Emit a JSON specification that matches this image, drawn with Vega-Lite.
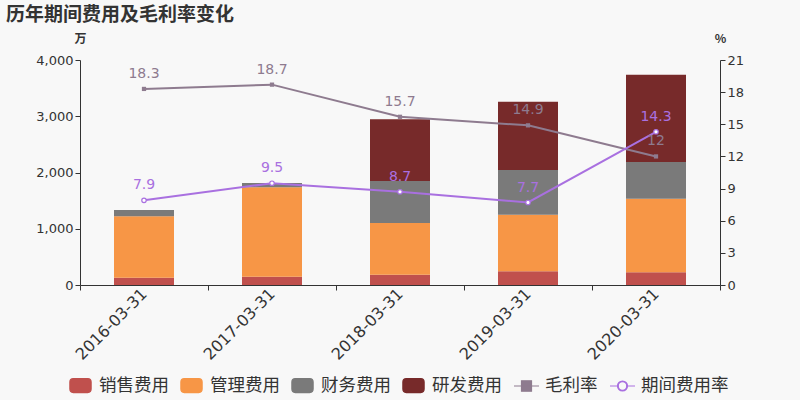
{
  "$schema": "https://vega.github.io/schema/vega-lite/v6.json",
  "autosize": "none",
  "width": 640,
  "height": 225,
  "padding": {"left": 80, "top": 60, "right": 80, "bottom": 115},
  "background": "#f8f8f8",
  "title": {
    "text": "历年期间费用及毛利率变化",
    "anchor": "start",
    "frame": "group",
    "dx": -74,
    "offset": 7,
    "fontSize": 19,
    "fontWeight": "bold",
    "color": "#333333",
    "font": "Noto Sans CJK SC"
  },
  "config": {
    "font": "DejaVu Sans",
    "view": {"stroke": null},
    "axis": {
      "domainColor": "#333333",
      "tickColor": "#333333",
      "labelColor": "#333333",
      "titleColor": "#333333",
      "grid": false,
      "labelFont": "DejaVu Sans",
      "titleFont": "Noto Sans CJK SC"
    }
  },
  "datasets": {
    "bars": [
      {"日期": "2016-03-31", "系列": "销售费用", "金额": 130, "序": 1},
      {"日期": "2016-03-31", "系列": "管理费用", "金额": 1091, "序": 2},
      {"日期": "2016-03-31", "系列": "财务费用", "金额": 112, "序": 3},
      {"日期": "2016-03-31", "系列": "研发费用", "金额": 0, "序": 4},
      {"日期": "2017-03-31", "系列": "销售费用", "金额": 148, "序": 1},
      {"日期": "2017-03-31", "系列": "管理费用", "金额": 1589, "序": 2},
      {"日期": "2017-03-31", "系列": "财务费用", "金额": 76, "序": 3},
      {"日期": "2017-03-31", "系列": "研发费用", "金额": 0, "序": 4},
      {"日期": "2018-03-31", "系列": "销售费用", "金额": 183, "序": 1},
      {"日期": "2018-03-31", "系列": "管理费用", "金额": 919, "序": 2},
      {"日期": "2018-03-31", "系列": "财务费用", "金额": 747, "序": 3},
      {"日期": "2018-03-31", "系列": "研发费用", "金额": 1096, "序": 4},
      {"日期": "2019-03-31", "系列": "销售费用", "金额": 243, "序": 1},
      {"日期": "2019-03-31", "系列": "管理费用", "金额": 1007, "序": 2},
      {"日期": "2019-03-31", "系列": "财务费用", "金额": 794, "序": 3},
      {"日期": "2019-03-31", "系列": "研发费用", "金额": 1215, "序": 4},
      {"日期": "2020-03-31", "系列": "销售费用", "金额": 225, "序": 1},
      {"日期": "2020-03-31", "系列": "管理费用", "金额": 1310, "序": 2},
      {"日期": "2020-03-31", "系列": "财务费用", "金额": 652, "序": 3},
      {"日期": "2020-03-31", "系列": "研发费用", "金额": 1552, "序": 4}
    ],
    "rates": [
      {"日期": "2016-03-31", "系列": "毛利率", "值": 18.3},
      {"日期": "2017-03-31", "系列": "毛利率", "值": 18.7},
      {"日期": "2018-03-31", "系列": "毛利率", "值": 15.7},
      {"日期": "2019-03-31", "系列": "毛利率", "值": 14.9},
      {"日期": "2020-03-31", "系列": "毛利率", "值": 12},
      {"日期": "2016-03-31", "系列": "期间费用率", "值": 7.9},
      {"日期": "2017-03-31", "系列": "期间费用率", "值": 9.5},
      {"日期": "2018-03-31", "系列": "期间费用率", "值": 8.7},
      {"日期": "2019-03-31", "系列": "期间费用率", "值": 7.7},
      {"日期": "2020-03-31", "系列": "期间费用率", "值": 14.3}
    ]
  },
  "encoding": {
    "x": {
      "field": "日期",
      "type": "nominal",
      "scale": {"paddingInner": 0, "paddingOuter": 0},
      "axis": {
        "title": null,
        "labelAngle": -45,
        "labelAlign": "right",
        "labelBaseline": "middle",
        "labelFontSize": 16,
        "labelPadding": 1,
        "tickBand": "extent",
        "tickSize": 5
      }
    }
  },
  "layer": [
    {
      "data": {"name": "bars"},
      "mark": {"type": "bar", "width": 60},
      "encoding": {
        "y": {
          "aggregate": "sum",
          "field": "金额",
          "type": "quantitative",
          "stack": "zero",
          "scale": {"domain": [0, 4000]},
          "axis": {
            "title": "万",
            "titleAngle": 0,
            "titleX": 0,
            "titleY": -22,
            "titleAlign": "center",
            "titleBaseline": "middle",
            "titleFontSize": 12,
            "titleFontWeight": "bold",
            "values": [0, 1000, 2000, 3000, 4000],
            "format": ",.0f",
            "labelFontSize": 13,
            "tickSize": 5
          }
        },
        "color": {
          "field": "系列",
          "type": "nominal",
          "scale": {
            "domain": ["销售费用", "管理费用", "财务费用", "研发费用", "毛利率", "期间费用率"],
            "range": ["#c0504d", "#f79646", "#7a7a7a", "#772a2a", "#8e7b8f", "#a970e0"]
          },
          "legend": {
            "title": null,
            "orient": "none",
            "direction": "horizontal",
            "legendX": -13,
            "legendY": 312,
            "labelFont": "Noto Sans CJK SC",
            "labelFontSize": 17.5,
            "labelColor": "#333333",
            "columnPadding": 9,
            "labelOffset": 5,
            "symbolSize": 625,
            "symbolStrokeWidth": 1.5,
            "encode": {
              "symbols": {
                "update": {
                  "shape": [
                    {"test": "datum.value === '毛利率'", "value": "M-1,0H1M-0.4,-0.42H0.4V0.42H-0.4Z"},
                    {"test": "datum.value === '期间费用率'", "value": "M-1,0H-0.4M0.4,0H1M-0.4,0A0.4,0.4 0 1,1 0.4,0A0.4,0.4 0 1,1 -0.4,0ZM-0.34,0A0.34,0.34 0 1,0 0.34,0A0.34,0.34 0 1,0 -0.34,0Z"},
                    {"value": "M-0.85,-0.28Q-0.85,-0.56 -0.57,-0.56H0.57Q0.85,-0.56 0.85,-0.28V0.28Q0.85,0.56 0.57,0.56H-0.57Q-0.85,0.56 -0.85,0.28Z"}
                  ],
                  "stroke": [
                    {"test": "datum.value === '期间费用率'", "value": "#a970e0"},
                    {"test": "datum.value === '毛利率'", "value": "#8e7b8f"},
                    {"value": "transparent"}
                  ],
                  "strokeWidth": {"value": 1.2},
                  "opacity": {"value": 1}
                }
              }
            }
          }
        },
        "order": {"field": "序", "type": "quantitative"}
      }
    },
    {
      "data": {"name": "rates"},
      "encoding": {
        "y": {
          "field": "值",
          "type": "quantitative",
          "scale": {"domain": [0, 21]},
          "axis": {
            "orient": "right",
            "title": "%",
            "titleAngle": 0,
            "titleX": 0,
            "titleY": -22,
            "titleAlign": "center",
            "titleBaseline": "middle",
            "titleFontSize": 12,
            "titleFontWeight": "bold",
            "values": [0, 3, 6, 9, 12, 15, 18, 21],
            "labelFontSize": 13,
            "tickSize": 5
          }
        }
      },
      "layer": [
        {
          "mark": {"type": "line", "strokeWidth": 2},
          "encoding": {
            "color": {"field": "系列", "type": "nominal"}
          }
        },
        {
          "transform": [{"filter": "datum['系列'] === '毛利率'"}],
          "mark": {"type": "point", "shape": "square", "filled": true, "size": 18, "color": "#8e7b8f", "opacity": 1}
        },
        {
          "transform": [{"filter": "datum['系列'] === '期间费用率'"}],
          "mark": {"type": "point", "shape": "circle", "filled": true, "size": 20, "fill": "#ffffff", "stroke": "#a970e0", "strokeWidth": 1.2, "opacity": 1}
        },
        {
          "mark": {"type": "text", "dy": -15, "fontSize": 14, "font": "DejaVu Sans"},
          "encoding": {
            "text": {"field": "值", "type": "quantitative"},
            "color": {"field": "系列", "type": "nominal"}
          }
        }
      ]
    }
  ],
  "resolve": {"scale": {"y": "independent"}}
}
